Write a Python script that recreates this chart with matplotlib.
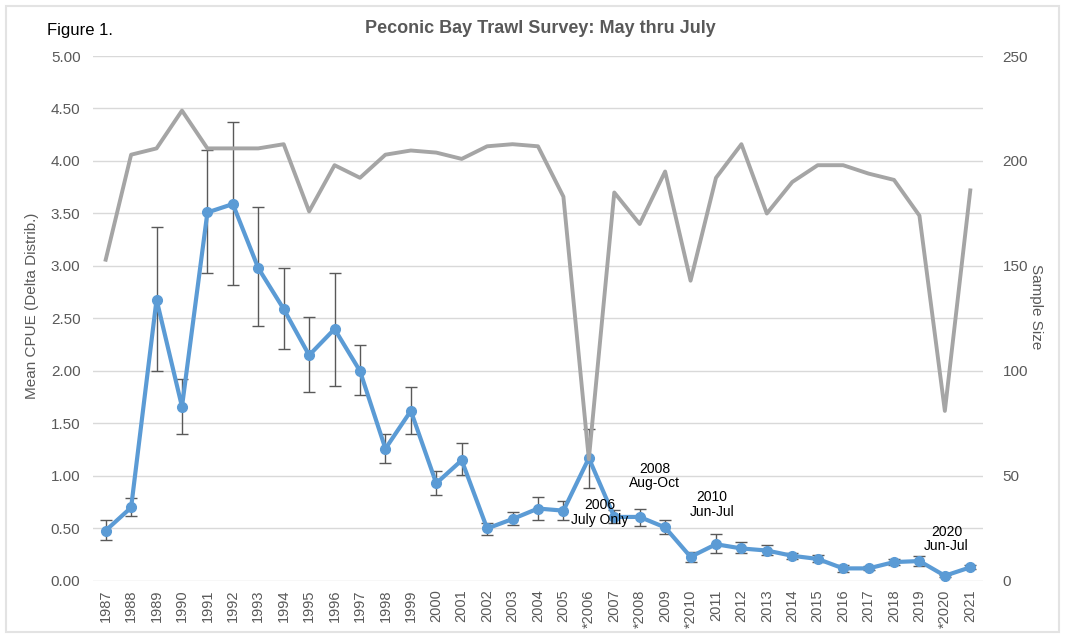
#!/usr/bin/env python3
"""Peconic Bay trawl survey: mean CPUE with sample size on a second axis"""

import matplotlib
matplotlib.use("Agg")
import matplotlib.pyplot as plt
import matplotlib.patches as patches
import numpy as np

plt.rcParams['font.family'] = ['Liberation Sans', 'DejaVu Sans']

# Data
years = ["1987", "1988", "1989", "1990", "1991", "1992", "1993", "1994", "1995",
         "1996", "1997", "1998", "1999", "2000", "2001", "2002", "2003", "2004",
         "2005", "*2006", "2007", "*2008", "2009", "*2010", "2011", "2012", "2013",
         "2014", "2015", "2016", "2017", "2018", "2019", "*2020", "2021"]

cpue = [0.48, 0.70, 2.68, 1.66, 3.51, 3.59, 2.98, 2.59, 2.15, 2.40, 2.00, 1.26,
        1.62, 0.93, 1.15, 0.50, 0.59, 0.69, 0.67, 1.17, 0.61, 0.61, 0.51, 0.23,
        0.35, 0.31, 0.29, 0.24, 0.21, 0.12, 0.12, 0.18, 0.19, 0.05, 0.13]

cpue_upper = [0.58, 0.79, 3.37, 1.92, 4.10, 4.37, 3.56, 2.98, 2.51, 2.93, 2.25, 1.40,
              1.85, 1.05, 1.31, 0.55, 0.66, 0.80, 0.76, 1.45, 0.68, 0.69, 0.58, 0.28,
              0.45, 0.37, 0.34, 0.27, 0.25, 0.15, 0.14, 0.21, 0.24, 0.06, 0.15]

cpue_lower = [0.39, 0.62, 2.00, 1.40, 2.93, 2.82, 2.43, 2.21, 1.80, 1.86, 1.77, 1.12,
              1.40, 0.82, 1.01, 0.44, 0.53, 0.58, 0.58, 0.89, 0.55, 0.52, 0.45, 0.18,
              0.27, 0.27, 0.25, 0.21, 0.18, 0.09, 0.10, 0.15, 0.14, 0.04, 0.11]

sample_size = [153, 203, 206, 224, 206, 206, 206, 208, 176, 198, 192, 203, 205, 204,
               201, 207, 208, 207, 183, 58, 185, 170, 195, 143, 192, 208, 175, 190,
               198, 198, 194, 191, 174, 81, 186]

notes = ["2006\nJuly Only", "2008\nAug-Oct", "2010\nJun-Jul", "2020\nJun-Jul"]
note_x = [19.43, 21.58, 23.85, 33.06]
note_y = [0.65, 1.00, 0.73, 0.40]

BLUE = "#5B9BD5"
GRAY = "#A5A5A5"
TEXT = "#595959"
GRID = "#D9D9D9"

fig = plt.figure(figsize=(10.65, 6.4), dpi=100)

# light frame around the chart
fig.patches.append(patches.Rectangle((0.006, 0.012), 0.988, 0.978, transform=fig.transFigure,
                                     fill=False, edgecolor="#E3E3E3", linewidth=1.5))

ax = fig.add_axes([0.0873, 0.0922, 0.8357, 0.8203])
x = np.arange(len(years))

cpue = np.array(cpue)
yerr = [cpue - np.array(cpue_lower), np.array(cpue_upper) - cpue]

ax.errorbar(x, cpue, yerr=yerr, fmt='none', ecolor=TEXT, elinewidth=1.0,
            capsize=4, capthick=1.0, zorder=2)
ax.plot(x, cpue, color=BLUE, linewidth=3, marker='o', markersize=7, zorder=3)

ax.set_xlim(-0.5, len(years) - 0.5)
ax.set_ylim(0, 5)
ax.set_yticks(np.arange(0, 5.01, 0.5))
ax.set_yticklabels([f"{v:.2f}" for v in np.arange(0, 5.01, 0.5)])
ax.set_xticks(x)
ax.set_xticklabels(years, rotation=90)
ax.grid(axis='y', color=GRID, linewidth=1)
ax.set_axisbelow(True)
for s in ax.spines.values():
    s.set_visible(False)
ax.tick_params(axis='y', length=0, pad=9, labelsize=11, labelcolor=TEXT)
ax.tick_params(axis='x', length=0, pad=6, labelsize=10.5, labelcolor=TEXT)
ax.set_ylabel("Mean CPUE (Delta Distrib.)", fontsize=11, color=TEXT)
ax.yaxis.label.set_va('center')
ax.yaxis.set_label_coords(-0.068, 0.525)

# annotations for the off-season years
for t, tx, ty in zip(notes, note_x, note_y):
    ax.text(tx, ty, t, ha='center', va='center', fontsize=10, color="black",
            linespacing=1.05, zorder=5)

ax2 = ax.twinx()
ax2.plot(x, sample_size, color=GRAY, linewidth=2.8, zorder=4)
ax2.set_ylim(0, 250)
ax2.set_yticks(np.arange(0, 251, 50))
for s in ax2.spines.values():
    s.set_visible(False)
ax2.tick_params(axis='y', length=0, pad=14, labelsize=11, labelcolor=TEXT)
ax2.set_ylabel("Sample Size", fontsize=11, color=TEXT, rotation=-90)
ax2.yaxis.label.set_va('center')
ax2.yaxis.set_label_coords(1.06, 0.522)

fig.text(0.507, 0.956, "Peconic Bay Trawl Survey: May thru July", ha='center', va='center',
         fontsize=13, fontweight='bold', color=TEXT)
fig.text(0.044, 0.953, "Figure 1.", ha='left', va='center', fontsize=12, color="black")

fig.savefig("out.png", dpi=100)
